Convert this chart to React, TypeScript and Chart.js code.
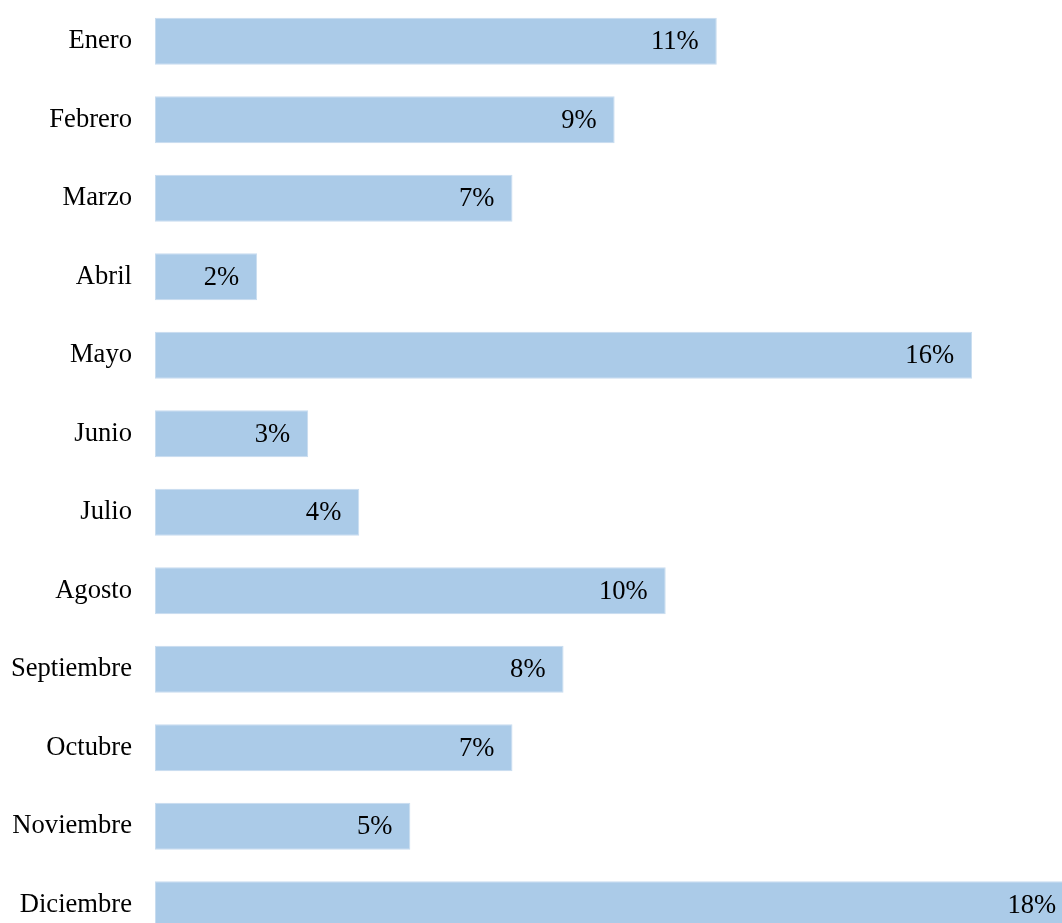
import React, { useEffect, useRef } from "react";
import { Chart, registerables } from "chart.js";

Chart.register(...registerables);

const months = [
  "Enero", "Febrero", "Marzo", "Abril", "Mayo", "Junio",
  "Julio", "Agosto", "Septiembre", "Octubre", "Noviembre", "Diciembre",
];
const shares = [11, 9, 7, 2, 16, 3, 4, 10, 8, 7, 5, 18];
const shareLabels = ["11%", "9%", "7%", "2%", "16%", "3%", "4%", "10%", "8%", "7%", "5%", "18%"];

const FONT = "'Liberation Serif', 'Times New Roman', serif";
const FONT_SIZE = 26.6;

const barLabels = {
  id: "barLabels",
  afterDatasetsDraw(chart: any) {
    const ctx = chart.ctx;
    const meta = chart.getDatasetMeta(0);
    ctx.save();
    ctx.font = `${FONT_SIZE}px ${FONT}`;
    ctx.fillStyle = "#000000";
    ctx.textAlign = "right";
    ctx.textBaseline = "middle";
    meta.data.forEach((bar: any, i: number) => {
      ctx.fillText(shareLabels[i], bar.x - 18, bar.y + 1);
    });
    ctx.restore();
  },
};

export default function App() {
  const ref = useRef<HTMLCanvasElement>(null);
  useEffect(() => {
    if (!ref.current) return;
    const chart = new Chart(ref.current, {
      type: "bar",
      data: {
        labels: months,
        datasets: [
          {
            data: shares,
            backgroundColor: "#ABCBE8",
            borderColor: "#C8DCEF",
            borderWidth: 1,
            borderSkipped: false,
            categoryPercentage: 1,
            barPercentage: 0.6,
          },
        ],
      },
      options: {
        indexAxis: "y",
        responsive: false,
        animation: false,
        layout: { padding: { top: 2, left: 0, right: 0, bottom: 0 } },
        plugins: { legend: { display: false }, tooltip: { enabled: false } },
        scales: {
          x: { display: false, min: 0, max: 925 / 51.07 },
          y: {
            grid: { display: false, drawTicks: false },
            border: { display: false },
            ticks: {
              padding: 23,
              color: "#000000",
              font: { family: FONT, size: FONT_SIZE },
            },
            afterFit(scale: any) {
              scale.width = 155;
              scale.paddingTop = 0;
              scale.paddingBottom = 0;
            },
          },
        },
      },
      plugins: [barLabels],
    });
    return () => chart.destroy();
  }, []);
  return (
    <div style={{ position: "fixed", left: 0, top: 0, width: 1062, height: 923, overflow: "hidden", background: "#fff" }}>
      <canvas ref={ref} width={1080} height={944} style={{ display: "block" }} />
    </div>
  );
}
